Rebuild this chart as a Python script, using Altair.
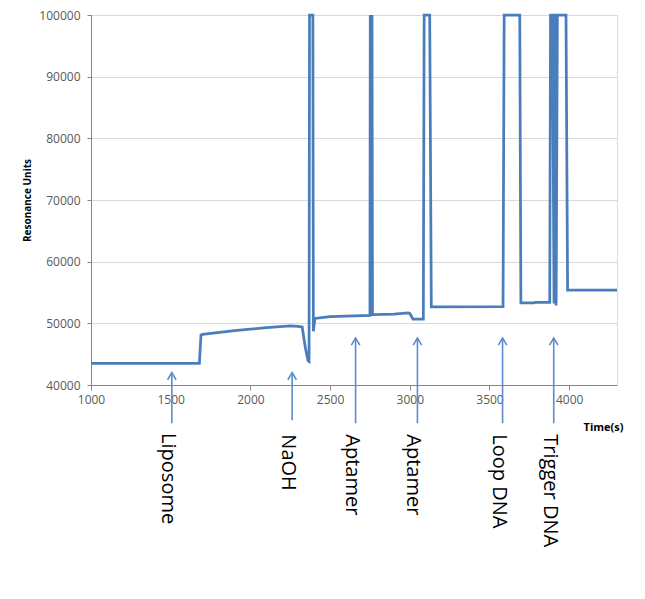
import altair as alt
import pandas as pd

# Sensorgram trace (time in s, resonance units)
time_s = [1000, 1680, 1690, 1700, 1900, 2100, 2250, 2300, 2325, 2345, 2362, 2368,
          2371, 2392, 2395, 2405, 2500, 2750,
          2752, 2755, 2757, 2761, 2763, 2766,
          2900, 2990, 3000, 3020, 3085, 3090, 3125, 3135, 3585, 3592, 3690, 3697,
          3780, 3785, 3878, 3883, 3895, 3905, 3908, 3912, 3918, 3926, 3980, 3990, 4300]
ru = [43500, 43500, 48100, 48200, 48800, 49300, 49600, 49500, 49400, 46000, 43900, 43800,
      100000, 100000, 48700, 50800, 51100, 51300,
      100000, 51300, 100000, 51400, 100000, 51400,
      51500, 51700, 51600, 50700, 50700, 100000, 100000, 52650, 52700, 100000, 100000, 53300,
      53300, 53400, 53400, 100000, 100000, 53200, 100000, 100000, 52900, 100000, 100000, 55400, 55400]

# Injection annotations
inj_labels = ["Liposome", "NaOH", "Aptamer", "Aptamer", "Loop DNA", "Trigger DNA"]
inj_time = [1507, 2262, 2660, 3048, 3582, 3903]
inj_tip = [42000, 42000, 47600, 47600, 47600, 47600]
inj_base = [33800, 34300, 33800, 33800, 33800, 33800]
label_top = [32200, 32000, 32000, 32000, 32000, 32000]

x_ticks = [1000, 1500, 2000, 2500, 3000, 3500, 4000]
y_ticks = [40000, 50000, 60000, 70000, 80000, 90000, 100000]

trace = pd.DataFrame({"t": time_s, "ru": ru, "idx": list(range(len(time_s)))})
inj = pd.DataFrame({"t": inj_time, "tip": inj_tip, "base": inj_base,
                    "label": inj_labels, "ly": label_top})

FONT = "Open Sans"
BLUE = "#4A7EBB"

xscale = alt.Scale(domain=[1000, 4300], nice=False, zero=False)
yscale = alt.Scale(domain=[40000, 100000], nice=False, zero=False)

xaxis = alt.Axis(values=x_ticks, title="Time(s)", grid=False,
                 titleAnchor="end", titleAlign="right", titleX=532, titleY=42,
                 titleBaseline="middle", titleFontSize=11, titleFontWeight="bold",
                 titleFont=FONT, titleColor="#000000",
                 labelFont=FONT, labelFontSize=12, labelColor="#595959",
                 domainColor="#868686", tickColor="#868686", tickSize=5, labelPadding=4,
                 format="d", labelFlush=False)
yaxis = alt.Axis(values=y_ticks, title="Resonance Units", grid=True, gridColor="#D9D9D9",
                 titleX=-64, titleY=185, titleAnchor="middle", titleAlign="center",
                 titleBaseline="middle", titleFontSize=10, titleFontWeight="bold",
                 titleFont=FONT, titleColor="#000000",
                 labelFont=FONT, labelFontSize=12, labelColor="#595959",
                 domainColor="#868686", tickColor="#868686", tickSize=4, labelPadding=7,
                 format="d")

line = alt.Chart(trace).mark_line(color=BLUE, strokeWidth=2.75, strokeJoin="miter").encode(
    x=alt.X("t:Q", scale=xscale, axis=xaxis),
    y=alt.Y("ru:Q", scale=yscale, axis=yaxis),
    order=alt.Order("idx:Q"),
)

shafts = alt.Chart(inj).mark_rule(color="#5B8CCB", strokeWidth=1.6).encode(
    x=alt.X("t:Q", scale=xscale),
    y=alt.Y("tip:Q", scale=yscale),
    y2="base:Q",
)

heads = alt.Chart(inj).mark_point(
    shape="M-0.6,1 L0,0 L0.6,1", filled=False, color="#5B8CCB",
    strokeWidth=1.6, size=200, opacity=1
).encode(
    x=alt.X("t:Q", scale=xscale),
    y=alt.Y("tip:Q", scale=yscale),
)

labels = alt.Chart(inj).mark_text(
    angle=90, align="left", baseline="middle", font=FONT, fontSize=20,
    color="#000000", dy=4
).encode(
    x=alt.X("t:Q", scale=xscale),
    y=alt.Y("ly:Q", scale=yscale),
    text="label:N",
)

chart = alt.layer(line, shafts, heads, labels).properties(
    width=526, height=370,
    autosize=alt.AutoSizeParams(type="none"),
    padding={"left": 83, "top": 7, "right": 15, "bottom": 190},
).configure_view(stroke=None).configure(background="white")

chart.save("out.html", embed_options={"renderer": "svg", "actions": False})
